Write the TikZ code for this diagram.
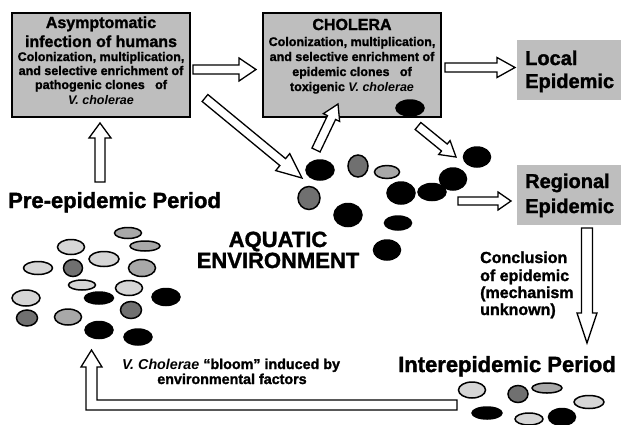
\documentclass[tikz,border=0pt]{standalone}
\usepackage{fontspec}
\setmainfont{Liberation Sans}[BoldFeatures={FakeBold=1.5}]
\usetikzlibrary{calc}
\definecolor{boxgray}{HTML}{BEBEBE}
\definecolor{lg}{HTML}{D6D6D6}
\definecolor{mg}{HTML}{A8A8A8}
\definecolor{dg}{HTML}{707070}
\newcommand{\blockarrow}[5]{%
  \coordinate (hb) at ($(#2)!#5!(#1)$);
  \draw[barrow] ($(#1)!#3!90:(#2)$) -- ($(hb)!#3!90:(#2)$) -- ($(hb)!#4!90:(#2)$) -- (#2)
     -- ($(hb)!#4!-90:(#2)$) -- ($(hb)!#3!-90:(#2)$) -- ($(#1)!#3!-90:(#2)$) -- cycle;}
\newcommand{\ovl}[5]{\draw[oval,fill=#1] (#2,#3) ellipse [x radius=#4pt, y radius=#5pt];}
\begin{document}
\begin{tikzpicture}[x=1pt,y=-1pt,
  box/.style={draw=black, line width=1.8pt, fill=boxgray, inner sep=0pt},
  gbox/.style={fill=boxgray, inner sep=0pt},
  barrow/.style={draw=black, line width=1.3pt, fill=white, line join=miter},
  oval/.style={draw=black, line width=1.5pt},
  big/.style={font=\fontsize{16}{16}\selectfont\bfseries, inner sep=0pt, anchor=base},
  small/.style={font=\fontsize{12.5}{12.5}\selectfont\bfseries, inner sep=0pt, anchor=base},
  lab/.style={font=\fontsize{22}{22}\selectfont\bfseries, inner sep=0pt, anchor=base west},
  epi/.style={font=\fontsize{20}{20}\selectfont\bfseries, inner sep=0pt, anchor=base west},
  mid/.style={font=\fontsize{16}{16}\selectfont\bfseries, inner sep=0pt, anchor=base west},
  sm/.style={font=\fontsize{14.3}{14.3}\selectfont\bfseries, inner sep=0pt, anchor=base}]
\useasboundingbox (0,0) rectangle (621,424);
% boxes
\node[box, minimum width=178pt, minimum height=104pt] (b1) at (101,65) {};
\node[box, minimum width=178pt, minimum height=104pt] (b2) at (352,65) {};
\node[gbox, minimum width=104pt, minimum height=60pt] (loc) at (569,70) {};
\node[gbox, minimum width=104pt, minimum height=60pt] (reg) at (569,195) {};
% box1 text
\node[big] (t1a) at (101,28) {Asymptomatic};
\node[big] (t1b) at (101,47) {infection of humans};
\node[small] (t1c) at (101,61) {Colonization, multiplication,};
\node[small] (t1d) at (101,75) {and selective enrichment of};
\node[small] (t1e) at (101,89) {pathogenic clones\ \ \ of};
\node[small] (t1f) at (101,104) {\itshape V. cholerae};
% box2 text
\node[big] (t2a) at (352,30) {CHOLERA};
\node[small] (t2b) at (352,46) {Colonization, multiplication,};
\node[small] (t2c) at (352,61) {and selective enrichment of};
\node[small] (t2d) at (352,76) {epidemic clones\ \ \ of};
\node[small] (t2e) at (352,91) {toxigenic \textit{V. cholerae}};
% epidemic labels
\node[epi] (l1) at (525,65) {Local};
\node[epi] (l2) at (525,88) {Epidemic};
\node[epi] (r1) at (525,188) {Regional};
\node[epi] (r2) at (525,213) {Epidemic};
% other labels
\node[lab] (pre) at (8,208) {Pre-epidemic Period};
\node[lab, anchor=base] (aq1) at (278,247) {AQUATIC};
\node[lab, anchor=base] (aq2) at (278,268) {ENVIRONMENT};
\node[mid] (c1) at (480,263) {Conclusion};
\node[mid] (c2) at (480,281) {of epidemic};
\node[mid] (c3) at (480,298) {(mechanism};
\node[mid] (c4) at (480,315) {unknown)};
\node[lab] (inter) at (398,372) {Interepidemic Period};
\node[sm] (bl1) at (231,369) {\textit{V. Cholerae} “bloom” induced by};
\node[sm] (bl2) at (232,384) {environmental factors};
% ellipses: aquatic cluster
\ovl{black}{320}{170}{14}{10}
\ovl{dg}{358}{166}{10}{11}
\ovl{mg}{387}{172}{12.5}{6.5}
\ovl{dg}{309}{198}{11}{11.5}
\ovl{black}{348}{215}{14}{11.5}
\ovl{black}{401}{193}{14}{11}
\ovl{black}{432}{192}{14}{8.5}
\ovl{black}{453}{179}{13.5}{11}
\ovl{black}{477}{157}{13.5}{10}
\ovl{black}{398}{223}{13.5}{7}
\ovl{black}{387}{250}{13.5}{10}
\ovl{black}{410}{108}{14}{8}
% left cluster
\ovl{mg}{128}{233}{13.5}{5.5}
\ovl{lg}{71}{247}{13.5}{7.5}
\ovl{mg}{145}{246}{15}{5}
\ovl{lg}{38}{268}{14.5}{6.5}
\ovl{dg}{73}{268}{9.5}{8.5}
\ovl{lg}{104}{259}{15}{7.5}
\ovl{mg}{142}{268}{13.5}{8.5}
\ovl{lg}{82}{285}{13.5}{5}
\ovl{lg}{129}{288}{13.5}{7.5}
\ovl{lg}{26}{298}{14}{8}
\ovl{black}{99}{298}{14.5}{6}
\ovl{black}{166}{297}{14}{8.5}
\ovl{dg}{27}{318}{10.5}{8}
\ovl{mg}{68}{317}{13.5}{8}
\ovl{dg}{131}{310}{10.5}{8.5}
\ovl{black}{99}{330}{14}{8.5}
\ovl{black}{138}{337}{14}{8}
% bottom right cluster
\ovl{lg}{472}{390}{13.5}{8}
\ovl{dg}{518}{394}{10}{8.5}
\ovl{mg}{547}{388}{15}{5}
\ovl{lg}{589}{402}{15}{6.5}
\ovl{black}{487}{413}{15}{6}
\ovl{lg}{529}{419}{14}{6}
\ovl{black}{562}{417}{13.5}{8.5}
% arrow end points
\coordinate (a1s) at (193,69.5); \coordinate (a1e) at (256,69.5);
\coordinate (a2s) at (445,67.5); \coordinate (a2e) at (515,67.5);
\coordinate (a3s) at (458,201);  \coordinate (a3e) at (511,201);
\coordinate (a4s) at (587,228);  \coordinate (a4e) at (587,343);
\coordinate (a5s) at (100,182);  \coordinate (a5e) at (100,123);
\coordinate (a6s) at (205,98);   \coordinate (a6e) at (302,178);
\coordinate (a7s) at (316,150);  \coordinate (a7e) at (338,104);
\coordinate (a8s) at (418,126);  \coordinate (a8e) at (456,157);
\blockarrow{a1s}{a1e}{4.5pt}{11.5pt}{17pt}
\blockarrow{a2s}{a2e}{4.5pt}{10pt}{18pt}
\blockarrow{a3s}{a3e}{4pt}{9pt}{13pt}
\blockarrow{a4s}{a4e}{5.5pt}{10pt}{30pt}
\blockarrow{a5s}{a5e}{5pt}{11pt}{15pt}
\blockarrow{a6s}{a6e}{4.5pt}{11pt}{25pt}
\blockarrow{a7s}{a7e}{4.5pt}{9pt}{15pt}
\blockarrow{a8s}{a8e}{4.5pt}{9pt}{15pt}
% L-shaped return arrow
\coordinate (ls) at (457,405);
\coordinate (le) at (91.5,350);
\draw[barrow] (ls |- 0,400) -- (97,400) -- (97,367) -- (102,367) -- (le) -- (81,367)
  -- (86,367) -- (86,410) -- (ls |- 0,410) -- cycle;
\end{tikzpicture}
\end{document}
